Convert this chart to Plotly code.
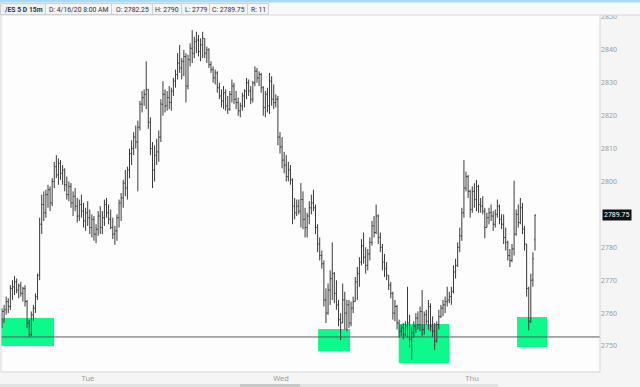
import plotly.graph_objects as go

# ---------------- data (15m bars, /ES) ----------------
opens = [
    2758, 2760.5, 2761, 2763.5, 2762, 2767.5, 2768, 2769.5, 2767, 2768.25,
    2766, 2767.5, 2763.5, 2757, 2753.5, 2759.5, 2761.5, 2765, 2771.5, 2787,
    2793, 2790.5, 2796, 2797.5, 2793.5, 2800, 2804.5, 2802, 2805.5, 2802.5,
    2803.5, 2799, 2796, 2798.5, 2793.5, 2795.5, 2792.5, 2789.5, 2793, 2791,
    2788, 2790.5, 2789, 2786, 2788.5, 2784, 2785.5, 2789.5, 2786, 2789,
    2793, 2790.5, 2788.5, 2786, 2784, 2785, 2789, 2793.5, 2795, 2799.5,
    2798, 2803.5, 2808.5, 2810, 2813.5, 2812, 2816.5, 2823.5, 2825.5, 2826.5,
    2828, 2818, 2810, 2803.5, 2808, 2809, 2813.5, 2823.5, 2826.5, 2823,
    2825.5, 2824, 2827.5, 2830.5, 2832.5, 2836, 2834.5, 2836.5, 2838, 2829,
    2837, 2840.5, 2839, 2842.5, 2843, 2839.5, 2841.5, 2843.5, 2839, 2840,
    2835.5, 2834, 2831.5, 2833, 2828.5, 2826, 2824.5, 2827, 2823, 2822,
    2826.5, 2829, 2825, 2824, 2821.5, 2823, 2826, 2827.5, 2830, 2827.5,
    2825, 2830, 2833.5, 2831.5, 2832.5, 2828.5, 2822.5, 2826.5, 2823, 2830.5,
    2825, 2824, 2825, 2813.5, 2810.5, 2806.5, 2805, 2801.5, 2803.5, 2800.5,
    2792.5, 2790.5, 2792.5, 2791, 2794.5, 2788.5, 2786, 2789.5, 2792, 2793.5,
    2792, 2786, 2781, 2777.5, 2775, 2764, 2760, 2767, 2770.5, 2772,
    2766, 2762.5, 2758, 2757, 2764, 2760, 2762.5, 2757, 2761.5, 2763.5,
    2769.5, 2772, 2775.5, 2780.5, 2777, 2774.5, 2778, 2781.5, 2786.5, 2784.5,
    2789.5, 2783, 2780, 2775.5, 2773.5, 2771.5, 2768.5, 2766, 2760, 2762,
    2757, 2754.5, 2755.5, 2753.5, 2756, 2757, 2752, 2754, 2756, 2758.5,
    2756.5, 2760.5, 2755, 2759.5, 2757.5, 2762, 2756, 2754.5, 2751.5, 2756.5,
    2759, 2761.5, 2762.5, 2763.5, 2764, 2765, 2766.5, 2772.5, 2774.5, 2780,
    2783.5, 2790.5, 2798, 2801.5, 2797, 2791.5, 2797, 2794.5, 2798.5, 2793,
    2792.5, 2791, 2786, 2789, 2790.5, 2789.5, 2787, 2790, 2792.5, 2788.5,
    2787, 2783, 2781.5, 2777.5, 2776, 2779.5, 2784, 2790, 2787.5, 2792,
    2785.5, 2781, 2767.5, 2757.5, 2770, 2782.25,
]
highs = [
    2761.5, 2762.5, 2765, 2764.5, 2768.5, 2770, 2771.25, 2770.5, 2769, 2769.5,
    2768, 2768.5, 2764, 2758, 2760.5, 2762.5, 2766, 2772, 2789, 2796,
    2797, 2797.5, 2799, 2798.5, 2801, 2806, 2808, 2807, 2806.5, 2805,
    2804, 2801.5, 2800, 2799.5, 2797, 2798, 2795, 2794.5, 2796, 2793.5,
    2792, 2794, 2791.5, 2790, 2789.5, 2787, 2791, 2792.5, 2791, 2794.5,
    2795, 2793, 2791.5, 2789, 2786.5, 2790, 2794.5, 2796.5, 2800.5, 2803.5,
    2804.5, 2810, 2812.5, 2815, 2817, 2818.5, 2824.5, 2827.5, 2828, 2836.5,
    2828, 2819.5, 2812, 2811, 2813, 2815.5, 2825, 2830.5, 2828, 2827.5,
    2829, 2828.5, 2831.5, 2834, 2839, 2841.5, 2837.5, 2840, 2839, 2838.5,
    2842, 2846, 2844, 2845.5, 2844.5, 2843.5, 2845.5, 2843.5, 2841, 2840.5,
    2836.5, 2835, 2834, 2833.5, 2830, 2828, 2829, 2828, 2826, 2827.5,
    2831, 2830, 2827.5, 2825.5, 2824, 2827, 2828, 2831.5, 2831, 2829,
    2830.5, 2835, 2834.5, 2833.5, 2833, 2829, 2827.5, 2828.5, 2833, 2832,
    2829.5, 2826.5, 2826, 2815, 2813.5, 2809, 2808, 2806, 2805, 2801,
    2795, 2794.5, 2794.5, 2799.5, 2797, 2792, 2790.5, 2794, 2796, 2797.5,
    2793, 2787, 2783, 2779, 2776, 2767.5, 2769, 2773, 2781.5, 2772.5,
    2770, 2764, 2760, 2769, 2766.5, 2764, 2764, 2763.5, 2765, 2771,
    2774, 2777, 2782.5, 2784.5, 2780, 2779.5, 2783, 2788, 2789.5, 2793,
    2790, 2784.5, 2781, 2778, 2775.5, 2771.5, 2769.5, 2766.5, 2764, 2762.5,
    2758, 2756.5, 2757, 2757.5, 2768, 2759.5, 2756, 2757.5, 2760, 2760.5,
    2762, 2767, 2760.5, 2761, 2764, 2763, 2759, 2757, 2757.5, 2761,
    2762.5, 2764, 2765, 2768, 2766.5, 2768, 2774.5, 2776.5, 2781.5, 2786,
    2792, 2806.5, 2803, 2802, 2797.5, 2798.5, 2799.5, 2800.5, 2799, 2795,
    2795.5, 2792, 2790.5, 2792, 2793, 2791, 2791.5, 2794.5, 2793, 2790,
    2790, 2786, 2782, 2779.5, 2781, 2800.25, 2791.5, 2793, 2795, 2793.5,
    2786.5, 2781, 2768, 2772, 2778.5, 2790,
]
lows = [
    2755.5, 2757, 2759.5, 2760, 2761, 2764, 2765.5, 2766, 2764.5, 2765,
    2763.5, 2762, 2755.5, 2752.75, 2753, 2757.5, 2760, 2764, 2770, 2784,
    2788, 2789, 2792, 2791, 2792.5, 2798, 2801, 2799, 2800.5, 2799,
    2797, 2794.5, 2794, 2792, 2789.5, 2791, 2787.5, 2788, 2789, 2786,
    2785, 2786.5, 2784, 2783, 2782, 2781.25, 2783.5, 2784, 2784, 2786.5,
    2789, 2787, 2785.5, 2782.5, 2780.75, 2782, 2786, 2788, 2792, 2795.5,
    2794.5, 2801, 2805, 2808, 2810, 2797, 2815.5, 2821, 2823, 2822,
    2816, 2808, 2798, 2800, 2805, 2806, 2812, 2820, 2821, 2821.5,
    2822, 2821.5, 2826, 2828.5, 2831, 2833, 2831, 2832, 2824, 2828,
    2835, 2836, 2837.5, 2839, 2838, 2836.5, 2837.5, 2837.5, 2836, 2834.5,
    2833, 2830, 2829.5, 2827, 2825, 2822.5, 2822, 2821.5, 2820.5, 2821.5,
    2824, 2823.5, 2822, 2820, 2819.5, 2821.5, 2822.5, 2825, 2826, 2823.5,
    2824, 2829, 2830, 2829, 2827, 2820, 2819.5, 2821, 2820.5, 2823,
    2822, 2822.5, 2811, 2808.5, 2804, 2802.5, 2800, 2800, 2799, 2787,
    2788.5, 2789.5, 2790, 2786, 2785.5, 2783, 2783, 2787, 2790, 2791,
    2784, 2778.5, 2776, 2773.5, 2762, 2757, 2759.5, 2762.5, 2764, 2763,
    2761, 2756, 2751.75, 2757, 2755, 2754.5, 2755.5, 2756, 2760, 2763.5,
    2764, 2768, 2774.5, 2775, 2772, 2773, 2776, 2780.5, 2783, 2784,
    2781, 2778.5, 2773, 2771, 2770, 2767, 2764.5, 2758, 2757.5, 2755,
    2752.5, 2753, 2752, 2753, 2752.5, 2749.5, 2745.75, 2752.5, 2754, 2755,
    2754.5, 2753, 2753.5, 2756.5, 2755, 2754.5, 2752.75, 2748.75, 2751, 2755,
    2758.5, 2759, 2760, 2762, 2763, 2762.5, 2766, 2770.5, 2774, 2778.5,
    2782, 2789, 2797, 2795, 2789, 2790.5, 2792, 2791, 2790.5, 2790.5,
    2790, 2782.75, 2786, 2787, 2788, 2785, 2786, 2789, 2787, 2785.5,
    2781, 2779, 2776, 2774, 2775.5, 2777.5, 2783.5, 2786, 2787, 2784,
    2779, 2765, 2754.75, 2757, 2768, 2779,
]
closes = [
    2760.5, 2761, 2763.5, 2762, 2767.5, 2768, 2769.5, 2767, 2768.25, 2766,
    2767.5, 2763.5, 2757, 2753.5, 2759.5, 2761.5, 2765, 2771.5, 2787, 2793,
    2790.5, 2796, 2797.5, 2793.5, 2800, 2804.5, 2802, 2805.5, 2802.5, 2803.5,
    2799, 2796, 2798.5, 2793.5, 2795.5, 2792.5, 2789.5, 2793, 2791, 2788,
    2790.5, 2789, 2786, 2788.5, 2784, 2785.5, 2789.5, 2786, 2789, 2793,
    2790.5, 2788.5, 2786, 2784, 2785, 2789, 2793.5, 2795, 2799.5, 2798,
    2803.5, 2808.5, 2810, 2813.5, 2812, 2816.5, 2823.5, 2825.5, 2826.5, 2828,
    2818, 2810, 2803.5, 2808, 2809, 2813.5, 2823.5, 2826.5, 2823, 2825.5,
    2824, 2827.5, 2830.5, 2832.5, 2836, 2834.5, 2836.5, 2838, 2829, 2837,
    2840.5, 2839, 2842.5, 2843, 2839.5, 2841.5, 2843.5, 2839, 2840, 2835.5,
    2834, 2831.5, 2833, 2828.5, 2826, 2824.5, 2827, 2823, 2822, 2826.5,
    2829, 2825, 2824, 2821.5, 2823, 2826, 2827.5, 2830, 2827.5, 2825,
    2830, 2833.5, 2831.5, 2832.5, 2828.5, 2822.5, 2826.5, 2823, 2830.5, 2825,
    2824, 2825, 2813.5, 2810.5, 2806.5, 2805, 2801.5, 2803.5, 2800.5, 2792.5,
    2790.5, 2792.5, 2791, 2794.5, 2788.5, 2786, 2789.5, 2792, 2793.5, 2792,
    2786, 2781, 2777.5, 2775, 2764, 2760, 2767, 2770.5, 2772, 2766,
    2762.5, 2758, 2757, 2764, 2760, 2762.5, 2757, 2761.5, 2763.5, 2769.5,
    2772, 2775.5, 2780.5, 2777, 2774.5, 2778, 2781.5, 2786.5, 2784.5, 2789.5,
    2783, 2780, 2775.5, 2773.5, 2771.5, 2768.5, 2766, 2760, 2762, 2757,
    2754.5, 2755.5, 2753.5, 2756, 2757, 2752, 2754, 2756, 2758.5, 2756.5,
    2760.5, 2755, 2759.5, 2757.5, 2762, 2756, 2754.5, 2751.5, 2756.5, 2759,
    2761.5, 2762.5, 2763.5, 2764, 2765, 2766.5, 2772.5, 2774.5, 2780, 2783.5,
    2790.5, 2798, 2801.5, 2797, 2791.5, 2797, 2794.5, 2798.5, 2793, 2792.5,
    2791, 2786, 2789, 2790.5, 2789.5, 2787, 2790, 2792.5, 2788.5, 2787,
    2783, 2781.5, 2777.5, 2776, 2779.5, 2784, 2790, 2787.5, 2792, 2785.5,
    2781, 2767.5, 2757.5, 2770, 2776.5, 2789.75,
]
bar_index = list(range(len(closes)))

day_labels = ["Tue", "Wed", "Thu"]
day_positions = [41.1, 133.5, 224.9]       # bar positions of day boundaries

price_ticks = [2750, 2760, 2770, 2780, 2790, 2800, 2810, 2820, 2830, 2840, 2850]

support_level = 2752.75
zone_start = [-0.5, 151.2, 189.8, 246.4]
zone_end = [24.9, 166.5, 213.9, 260.8]
zone_low = [2750.0, 2748.5, 2744.8, 2749.7]
zone_high = [2758.5, 2755.2, 2756.7, 2758.8]

header_fields = ["/ES 5 D 15m", "D: 4/16/20 8:00 AM", "O: 2782.25", "H: 2790",
                 "L: 2779", "C: 2789.75", "R: 11"]

# ---------------- figure ----------------
W, H = 640, 387
ML, MR, MT, MB = 1, 40, 15, 15
PW, PH = W - ML - MR, H - MT - MB

def px(xp):  # pixel x -> paper
    return (xp - ML) / PW

def py(yp):  # pixel y -> paper
    return (H - MB - yp) / PH

fig = go.Figure()

# demand zones
for x0, x1, lo, hi in zip(zone_start, zone_end, zone_low, zone_high):
    fig.add_shape(type="rect", xref="x", yref="y", x0=x0, x1=x1, y0=lo, y1=hi,
                  fillcolor="#0cfa8c", line=dict(width=0), layer="below")

fig.add_trace(go.Ohlc(
    x=bar_index, open=opens, high=highs, low=lows, close=closes,
    increasing=dict(line=dict(color="#3a3a3a", width=1)),
    decreasing=dict(line=dict(color="#3a3a3a", width=1)),
    tickwidth=0.45, hoverinfo="skip", showlegend=False,
))

# support line
fig.add_shape(type="line", xref="paper", yref="y", x0=0, x1=1,
              y0=support_level, y1=support_level,
              line=dict(color="#5a5a5a", width=1), layer="above")

# plot border (right & bottom & left)
fig.add_shape(type="line", xref="paper", yref="paper", x0=1, x1=1, y0=0, y1=1,
              line=dict(color="#d4d4d4", width=1))
fig.add_shape(type="line", xref="paper", yref="paper", x0=0, x1=1, y0=0, y1=0,
              line=dict(color="#d4d4d4", width=1))
fig.add_shape(type="line", xref="paper", yref="paper", x0=0, x1=0, y0=0, y1=1,
              line=dict(color="#dcdcdc", width=1))

# header bar (above plot, covers top label)
fig.add_shape(type="rect", xref="paper", yref="paper", x0=px(0), x1=px(640),
              y0=py(15), y1=py(0), fillcolor="#f9f9f9", line=dict(width=0),
              layer="above")
fig.add_shape(type="rect", xref="paper", yref="paper", x0=px(0), x1=px(640),
              y0=py(2.5), y1=py(0), fillcolor="#a9d9f5", line=dict(width=0),
              layer="above")
fig.add_shape(type="line", xref="paper", yref="paper", x0=px(0), x1=px(640),
              y0=py(15), y1=py(15), line=dict(color="#d8d8d8", width=1),
              layer="above")
edges = [0, 45, 111, 152, 181, 209, 247, 268]
for i, text in enumerate(header_fields):
    fig.add_shape(type="rect", xref="paper", yref="paper",
                  x0=px(edges[i] + 0.5), x1=px(edges[i + 1] + 0.5),
                  y0=py(14.5), y1=py(3.5),
                  fillcolor="#f4f4f4" if i else "#f0f0f0",
                  line=dict(color="#d0d0d0", width=1), layer="above")
    fig.add_annotation(x=px((edges[i] + edges[i + 1]) / 2 + 0.5), y=py(9.5),
                       xref="paper", yref="paper",
                       text=f"<b>{text}</b>" if i == 0 else text, showarrow=False,
                       xanchor="center", yanchor="middle",
                       font=dict(size=6.8, color="#333333", family="Roboto"))

# bottom scroll strip
fig.add_shape(type="rect", xref="paper", yref="paper", x0=px(0), x1=px(498),
              y0=py(387), y1=py(384), fillcolor="#e2e2e2", line=dict(width=0),
              layer="above")
fig.add_shape(type="rect", xref="paper", yref="paper", x0=px(240), x1=px(300),
              y0=py(387), y1=py(384), fillcolor="#c8c8c8", line=dict(width=0),
              layer="above")

# last price tag (hides the tick label it sits on, as in the reference)
last = closes[-1]
fig.add_annotation(x=1, y=last, xref="paper", yref="y", text=f"{last:.2f}",
                   showarrow=False, xanchor="left", yanchor="middle", xshift=2,
                   bgcolor="#111111", borderpad=1,
                   font=dict(size=7, color="#ffffff", family="Roboto"))
shown_ticks = [v for v in price_ticks if abs(v - last) > 2.5]

fig.update_layout(
    width=W, height=H,
    margin=dict(l=ML, r=MR, t=MT, b=MB),
    paper_bgcolor="#f5f5f5", plot_bgcolor="#fdfdfd",
    xaxis=dict(range=[-0.48, 286.1], showgrid=False, zeroline=False,
               tickmode="array", tickvals=day_positions, ticktext=day_labels,
               ticks="", tickfont=dict(size=7.5, color="#9a9a9a", family="Noto Sans"),
               rangeslider=dict(visible=False), showline=False, fixedrange=True),
    yaxis=dict(range=[2742.1, 2850.6], side="right", showgrid=False, zeroline=False,
               tickmode="array", tickvals=shown_ticks,
               ticktext=[str(v) for v in shown_ticks], ticks="",
               tickfont=dict(size=7, color="#9a9a9a", family="Noto Sans"),
               showline=False, fixedrange=True),
    showlegend=False,
)

fig.write_html("out.html")
